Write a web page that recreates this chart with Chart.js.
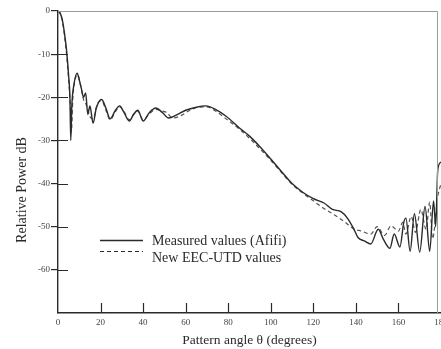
<!DOCTYPE html>
<html>
<head>
<meta charset="utf-8">
<title>Pattern angle</title>
<script src="https://cdn.jsdelivr.net/npm/chart.js@4"></script>
<style>
	body { margin: 0; background: #fff; }
	canvas { display: block; }
</style>
</head>
<body>
<canvas id="PatternChart" width="441" height="349"></canvas>
<script>
	// Measured values (Afifi), solid line
	var measuredAngle = [0, 1, 2, 3, 4, 5, 5.6, 6, 6.5, 7.5, 9, 10, 11, 12, 13, 14, 15, 16.5, 18, 20.5, 22.5, 24.5, 27, 29, 31, 33.5, 35.5, 37.5, 40, 43, 46, 49, 52, 56, 60, 65, 69.5, 74, 79, 85, 90, 95, 100, 105, 110, 115, 120, 125, 129, 133, 136, 139, 141, 144, 147, 150.5, 153, 156, 158, 160.7, 162.5, 163.5, 165.5, 167.5, 170, 172.5, 174.7, 176.5, 177.5, 178.5, 180];
	var measuredDb = [0, -0.5, -2, -5, -9, -15, -20, -30, -22, -17, -14.4, -16, -18, -20, -19, -24, -22, -26, -22.5, -20.5, -22.5, -25, -23, -22, -23.5, -25.5, -24, -23, -25.5, -23.5, -22.5, -23.5, -24.8, -24, -23, -22.3, -22, -22.8, -24.4, -27, -29, -31.5, -34.3, -37.2, -40, -42, -43.5, -44.5, -46, -46.5, -48, -50.5, -52.5, -53.3, -54, -50.6, -53, -55, -51.7, -54.7, -49, -48, -55.7, -47, -55.9, -45.3, -55.7, -44, -50, -36.7, -35];

	// New EEC-UTD values, dashed line
	var eecAngle = [0, 1, 2, 3, 4, 5, 5.8, 6.3, 7, 8, 9.3, 10.5, 12, 13.5, 15, 16.5, 18.5, 20.5, 22.5, 24.5, 27, 29, 31, 33.5, 35.5, 37.5, 40, 43, 46, 49, 51, 54, 58, 62, 66, 70, 74, 79, 85, 90, 95, 100, 105, 110, 115, 120, 125, 130, 135, 139, 142.5, 147, 150, 153.5, 156.5, 160, 162, 163.5, 166, 168, 170.5, 173, 174.7, 176, 178.5, 180];
	var eecDb = [0, -0.6, -2.2, -5.5, -10, -16, -22, -28, -20, -16, -14.8, -17, -20.5, -22, -24.5, -25, -21.5, -20.8, -23, -25.2, -23.3, -22.2, -23.3, -25.2, -24, -23.2, -25.2, -23.8, -22.8, -23.2, -23.5, -24.8, -24.2, -23, -22.3, -22.2, -23.2, -25, -27.3, -29.5, -32, -34.6, -37.4, -40.2, -42.2, -44, -45.8, -47.3, -49, -50.5, -51, -51.7, -50, -52, -49.8, -51, -49, -51.7, -47.6, -51.3, -46, -50.6, -44.3, -52.8, -43, -40];

	var xTicks = [0, 20, 40, 60, 80, 100, 120, 140, 160, 180];
	var yTicks = [0, -10, -20, -30, -40, -50, -60];
	var seriesNames = ['Measured values (Afifi)', 'New EEC-UTD values'];

	var serif = '"Liberation Serif", "DejaVu Serif", serif';
	var ink = '#2a2a2a';

	var toPoints = function(xs, ys) {
		return xs.map(function(x, i) {
			return { x: x, y: ys[i] };
		});
	};

	// @desc inner tick marks, frame, y title and the legend box
	var paperPlugin = {
		id: 'paper',
		afterDraw: function(chart) {
			var ctx = chart.ctx;
			var area = chart.chartArea;
			var xs = chart.scales.x;
			var ys = chart.scales.y;
			ctx.save();

			// light frame on top and right
			ctx.strokeStyle = '#9a9a9a';
			ctx.lineWidth = 1;
			ctx.beginPath();
			ctx.moveTo(area.left, area.top + 0.5);
			ctx.lineTo(437.5, area.top + 0.5);
			ctx.lineTo(437.5, area.bottom);
			ctx.stroke();

			// ticks going into the plot
			ctx.strokeStyle = ink;
			ctx.lineWidth = 1.2;
			ctx.beginPath();
			yTicks.forEach(function(v) {
				if (v === 0) return;
				var py = Math.round(ys.getPixelForValue(v)) + 0.5;
				ctx.moveTo(area.left, py);
				ctx.lineTo(area.left + 10, py);
			});
			xTicks.forEach(function(v) {
				if (v === 0 || v === 180) return;
				var px = Math.round(xs.getPixelForValue(v)) + 0.5;
				ctx.moveTo(px, area.bottom);
				ctx.lineTo(px, area.bottom - 10);
			});
			ctx.stroke();

			// y title
			ctx.fillStyle = ink;
			ctx.font = '14px ' + serif;
			ctx.textAlign = 'center';
			ctx.textBaseline = 'middle';
			ctx.save();
			ctx.translate(22, 190);
			ctx.rotate(-Math.PI / 2);
			ctx.fillText('Relative Power dB', 0, 0);
			ctx.restore();

			// legend
			var lineRows = [240, 251];
			var textRows = [241, 258];
			chart.data.datasets.forEach(function(ds, i) {
				ctx.strokeStyle = ink;
				ctx.lineWidth = ds.borderWidth;
				ctx.setLineDash(ds.borderDash || []);
				ctx.beginPath();
				ctx.moveTo(100, lineRows[i] + 0.5);
				ctx.lineTo(143, lineRows[i] + 0.5);
				ctx.stroke();
				ctx.setLineDash([]);
				ctx.textAlign = 'left';
				ctx.fillText(seriesNames[i], 152, textRows[i]);
			});
			ctx.restore();
		}
	};

	var patternChart = new Chart(document.getElementById('PatternChart'), {
		type: 'line',
		data: {
			datasets: [
				{
					label: seriesNames[0],
					data: toPoints(measuredAngle, measuredDb),
					borderColor: ink,
					borderWidth: 1.4,
					pointRadius: 0,
					fill: false,
					cubicInterpolationMode: 'monotone'
				},
				{
					label: seriesNames[1],
					data: toPoints(eecAngle, eecDb),
					borderColor: '#555',
					borderWidth: 1.2,
					borderDash: [4, 3],
					pointRadius: 0,
					fill: false,
					cubicInterpolationMode: 'monotone'
				}
			]
		},
		options: {
			responsive: false,
			animation: false,
			layout: { padding: { left: 0, right: 0, top: 11, bottom: 0 } },
			plugins: {
				legend: { display: false },
				tooltip: { enabled: false }
			},
			scales: {
				x: {
					type: 'linear',
					min: 0,
					max: 180,
					afterBuildTicks: function(scale) {
						scale.ticks = xTicks.map(function(v) { return { value: v }; });
					},
					afterFit: function(scale) {
						scale.height = 36;
						scale.paddingRight = 0;
					},
					grid: { drawOnChartArea: false, drawTicks: false },
					border: { color: ink, width: 1.4 },
					ticks: {
						padding: 4,
						color: '#444',
						font: { family: serif, size: 9 },
						maxRotation: 0,
						autoSkip: false
					},
					title: {
						display: true,
						text: 'Pattern angle θ (degrees)',
						color: ink,
						font: { family: serif, size: 13.5 },
						padding: { top: 2, bottom: 0 }
					}
				},
				y: {
					min: -70,
					max: 0,
					afterBuildTicks: function(scale) {
						scale.ticks = yTicks.map(function(v) { return { value: v }; });
					},
					afterFit: function(scale) { scale.width = 58; },
					grid: { drawOnChartArea: false, drawTicks: true, tickLength: 7, color: ink, lineWidth: 1.2 },
					border: { color: ink, width: 1.4 },
					ticks: {
						padding: 1,
						color: '#444',
						font: { family: serif, size: 9 },
						autoSkip: false
					}
				}
			}
		},
		plugins: [paperPlugin]
	});
</script>
</body>
</html>
